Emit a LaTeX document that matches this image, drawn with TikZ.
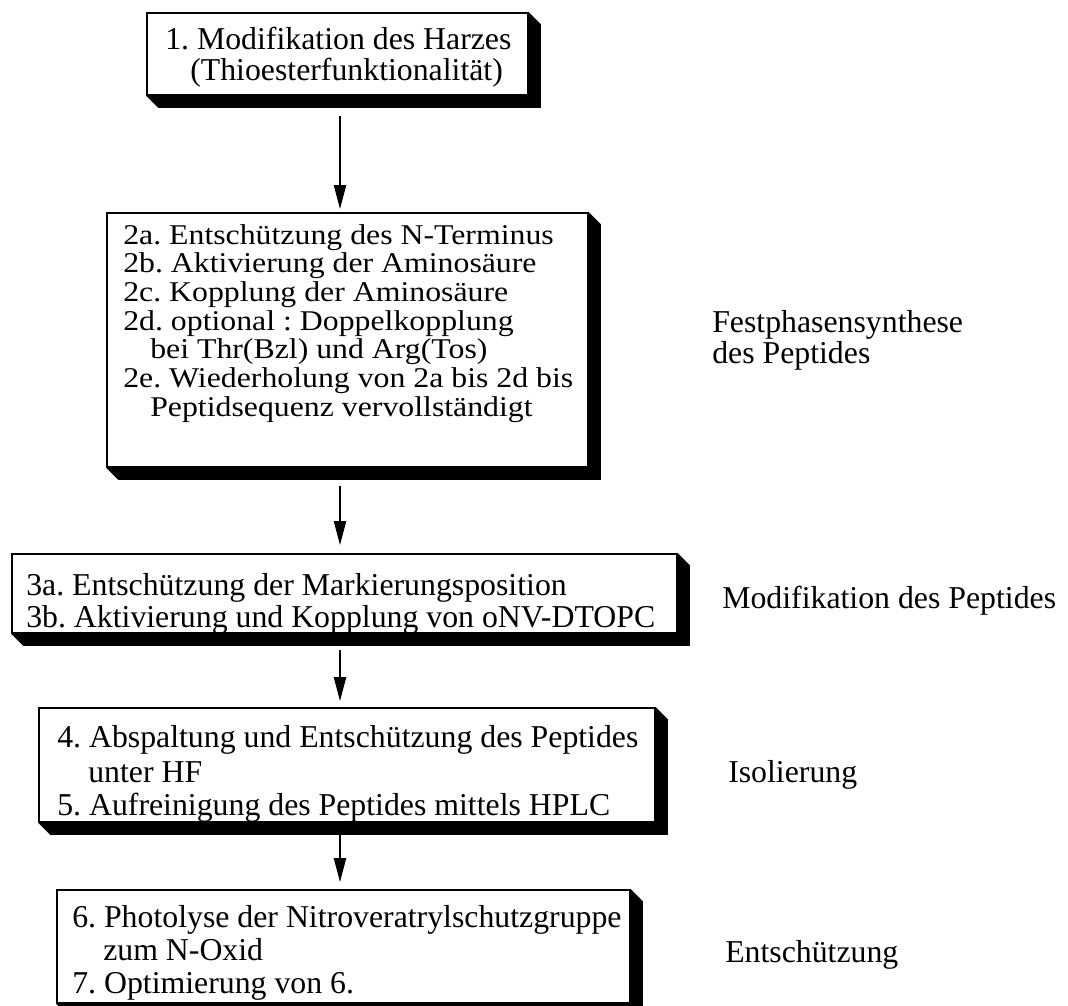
\documentclass[tikz,border=0pt]{standalone}
\usepackage{fontspec}
\setmainfont{Liberation Serif}
\usepackage{graphicx}
\usetikzlibrary{fit,arrows.meta,calc}
\frenchspacing
\newcommand\mkshadow[1]{\fill[black] (#1.north east) -- ++(12,12) -- ([shift={(12,12)}]#1.south east) -- ([shift={(12,12)}]#1.south west) -- (#1.south west) -- (#1.south east) -- cycle;}
\newcommand\sqz[1]{\scalebox{1}[0.9]{#1}}
\tikzset{
  x=0.75pt, y=-0.75pt,
  stepbox/.style={draw=black, line width=1.3pt, fill=white, inner sep=0pt},
  txt/.style={inner sep=0pt, anchor=base west, font=\fontsize{23.85}{28}\selectfont},
  arr/.style={line width=1.6pt, -{Triangle[length=18pt,width=9pt]}}
}
\begin{document}
\frenchspacing
\begin{tikzpicture}
\useasboundingbox (0,0) rectangle (1068,1006);
% boxes
\node[stepbox, fit={(147,13) (528,95)}] (b1) {};
\mkshadow{b1}
\node[stepbox, fit={(107,213) (588,467)}] (b2) {};
\mkshadow{b2}
\node[stepbox, fit={(12,554) (677,633)}] (b3) {};
\mkshadow{b3}
\node[stepbox, fit={(39,708) (655,822)}] (b4) {};
\mkshadow{b4}
\node[stepbox, fit={(57,890) (630,1003)}] (b5) {};
\mkshadow{b5}
% box texts
\node[txt] (t1a) at (165,50) {1. Modifikation des Harzes};
\node[txt] (t1b) at (190,81) {(Thioesterfunktionalität)};
\node[txt] (t2a) at (123,244) {\sqz{2a. Entschützung des N-Terminus}};
\node[txt] (t2b) at (123,272.7) {\sqz{2b. Aktivierung der Aminosäure}};
\node[txt] (t2c) at (123,301.4) {\sqz{2c. Kopplung der Aminosäure}};
\node[txt] (t2d) at (123,330.1) {\sqz{2d. optional : Doppelkopplung}};
\node[txt] (t2e) at (150,358.8) {\sqz{bei Thr(Bzl) und Arg(Tos)}};
\node[txt] (t2f) at (123,387.5) {\sqz{2e. Wiederholung von 2a bis 2d bis}};
\node[txt] (t2g) at (150,416.2) {\sqz{Peptidsequenz vervollständigt}};
\node[txt] (t3a) at (26,595) {3a. Entschützung der Markierungsposition};
\node[txt] (t3b) at (26,627) {3b. Aktivierung und Kopplung von oNV-DTOPC};
\node[txt] (t4a) at (57,747) {4. Abspaltung und Entschützung des Peptides};
\node[txt] (t4b) at (88,782) {unter HF};
\node[txt] (t4c) at (57,815) {5. Aufreinigung des Peptides mittels HPLC};
\node[txt] (t5a) at (72,927) {6. Photolyse der Nitroveratrylschutzgruppe};
\node[txt] (t5b) at (103,960) {zum N-Oxid};
\node[txt] (t5c) at (72,993) {7. Optimierung von 6.};
% side labels
\node[txt] (l2a) at (712,332) {Festphasensynthese};
\node[txt] (l2b) at (712,363) {des Peptides};
\node[txt] (l3) at (722,608) {Modifikation des Peptides};
\node[txt] (l4) at (728,782) {Isolierung};
\node[txt] (l5) at (725,962) {Entschützung};
% arrows
\coordinate (ax) at (340,0);
\draw[arr, shorten <=15pt, shorten >=2.25pt] (b1.south -| ax) -- (b2.north -| ax);
\draw[arr, shorten <=13.5pt, shorten >=6pt] (b2.south -| ax) -- (b3.north -| ax);
\draw[arr, shorten <=12pt, shorten >=4.5pt] (b3.south -| ax) -- (b4.north -| ax);
\draw[arr, shorten <=8.25pt, shorten >=5.25pt] (b4.south -| ax) -- (b5.north -| ax);
\end{tikzpicture}
\end{document}
